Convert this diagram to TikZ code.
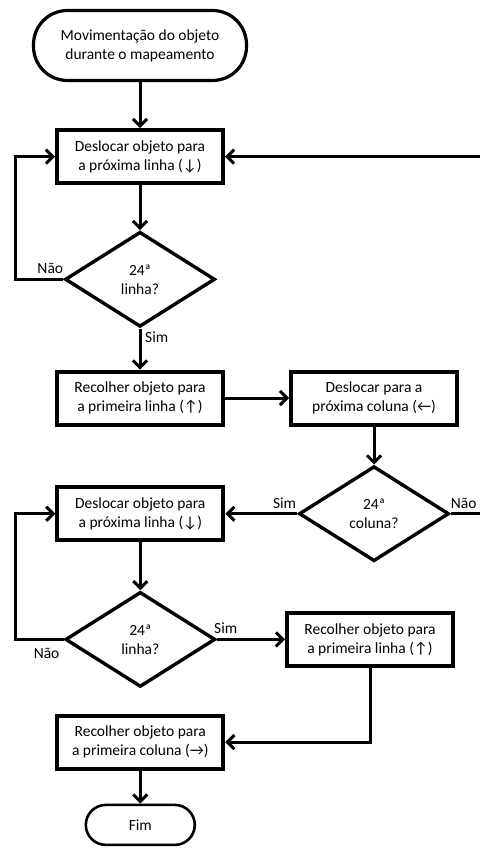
\documentclass[tikz,border=0pt]{standalone}
\usepackage{fontspec}
\setmainfont{Carlito}
\usepackage{tikz}
\usetikzlibrary{arrows.meta,positioning,shapes.geometric}
\newcommand{\flowfont}{\fontsize{15.5}{19}\selectfont}
\tikzset{
  >={Straight Barb[length=7pt,width=14pt]},
  flow/.style={->, line width=3pt, draw=black},
  stepbox/.style={
    draw=black,
    line width=4pt,
    fill=white,
    align=center,
    inner sep=2pt,
    minimum width=166pt,
    minimum height=53pt,
    font=\flowfont
  },
  decision/.style={
    diamond,
    draw=black,
    line width=3.4pt,
    fill=white,
    align=center,
    inner sep=0pt,
    minimum width=150pt,
    minimum height=95pt,
    font=\flowfont
  },
  terminal/.style={
    draw=black,
    line width=3.2pt,
    fill=white,
    align=center,
    font=\flowfont
  },
  answer/.style={font=\flowfont, inner sep=1pt}
}

\begin{document}
\begin{tikzpicture}[x=1pt, y=-1pt, node distance=40pt]
  \useasboundingbox (0,0) rectangle (479,850);

  \node[terminal, rounded corners=34pt, minimum width=213pt, minimum height=70pt] (start) at (140,45.5) {Movimentação do objeto\\durante o mapeamento};
  \node[stepbox, below=46pt of start] (nextrow) {Deslocar objeto para\\a próxima linha (↓)};
  \node[decision, below=45pt of nextrow] (lastrow) {24ª\\linha?};
  \node[stepbox, below=41pt of lastrow] (backrow) {Recolher objeto para\\a primeira linha (↑)};
  \node[stepbox, right=64pt of backrow] (nextcol) {Deslocar para a\\próxima coluna (←)};
  \node[decision, below=38pt of nextcol] (lastcol) {24ª\\coluna?};
  \node[stepbox, left=72pt of lastcol] (nextrowb) {Deslocar objeto para\\a próxima linha (↓)};
  \node[decision, below=48pt of nextrowb] (lastrowb) {24ª\\linha?};
  \node[stepbox, right=68pt of lastrowb] (backrowb) {Recolher objeto para\\a primeira linha (↑)};
  \node[stepbox, below=25pt of lastrowb] (backcol) {Recolher objeto para\\a primeira coluna (→)};
  \node[terminal, line width=2.6pt, rounded corners=20pt, minimum width=109pt, minimum height=40pt, below=33pt of backcol] (fim) {Fim};

  \draw[flow] (start) -- (nextrow);
  \draw[flow] (nextrow) -- (lastrow);
  \draw[flow] (lastrow.west) -- ++(-48pt,0) |- (nextrow.west);
  \node[answer, anchor=south east] (nao1) at ([xshift=1pt,yshift=4pt]lastrow.west) {Não};
  \draw[flow] (lastrow) -- (backrow);
  \node[answer, anchor=north west] (sim1) at ([xshift=4pt,yshift=-2pt]lastrow.south) {Sim};
  \draw[flow] (backrow) -- (nextcol);
  \draw[flow] (nextcol) -- (lastcol);
  \draw[flow] (lastcol) -- (nextrowb);
  \node[answer, anchor=south east] (sim2) at ([yshift=4pt]lastcol.west) {Sim};
  \draw[flow] (lastcol.east) -- ++(40pt,0) |- (nextrow.east);
  \node[answer, anchor=south west] (nao2) at ([xshift=-1pt,yshift=4pt]lastcol.east) {Não};
  \draw[flow] (nextrowb) -- (lastrowb);
  \draw[flow] (lastrowb.west) -- ++(-48pt,0) |- (nextrowb.west);
  \node[answer, anchor=north east] (nao3) at ([xshift=-3pt,yshift=-8pt]lastrowb.west) {Não};
  \draw[flow] (lastrowb) -- (backrowb);
  \node[answer, anchor=south west] (sim3) at ([xshift=-4pt,yshift=5pt]lastrowb.east) {Sim};
  \draw[flow] (backrowb) |- (backcol);
  \draw[flow] (backcol) -- (fim);

\end{tikzpicture}
\end{document}
